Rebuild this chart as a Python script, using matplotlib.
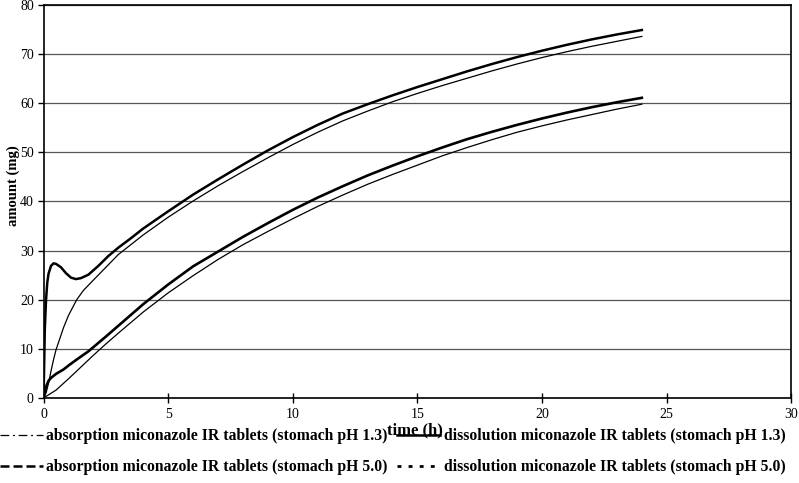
import matplotlib.pyplot as plt
from matplotlib.lines import Line2D

plt.rcParams['font.family'] = ['Liberation Serif', 'DejaVu Serif']

# dissolution, stomach pH 1.3 (upper thick curve)
t_diss13 = [0, 0.05, 0.1, 0.15, 0.2, 0.3, 0.4, 0.5, 0.7, 0.9, 1.1, 1.3, 1.5, 1.8,
            2.2, 2.6, 3, 3.5, 4, 5, 6, 7, 8, 9, 10, 11, 12, 13, 14, 15, 16, 17,
            18, 19, 20, 21, 22, 23, 24]
diss13 = [0, 14, 20, 23.5, 25.3, 26.9, 27.4, 27.3, 26.6, 25.4, 24.5, 24.2, 24.4, 25.1,
          26.9, 28.9, 30.6, 32.5, 34.5, 38.0, 41.4, 44.5, 47.5, 50.4, 53.1, 55.6, 57.9,
          59.8, 61.6, 63.3, 64.9, 66.5, 68.0, 69.4, 70.7, 71.9, 73.0, 74.0, 74.9]

# absorption, stomach pH 1.3 (upper thin curve)
t_abs13 = [0, 0.1, 0.2, 0.3, 0.4, 0.5, 0.66, 0.8, 1.0, 1.33, 1.6, 2.0, 2.5, 3, 3.5, 4,
           5, 6, 7, 8, 9, 10, 11, 12, 13, 14, 15, 16, 17, 18, 19, 20, 21, 22, 23, 24]
abs13 = [0, 1.0, 3.0, 5.5, 7.8, 9.8, 12.2, 14.3, 16.8, 20.0, 21.9, 24.0, 26.6, 29.2,
         31.2, 33.2, 36.8, 40.1, 43.2, 46.1, 48.9, 51.6, 54.1, 56.4, 58.4, 60.3, 62.0,
         63.6, 65.1, 66.6, 68.0, 69.3, 70.5, 71.6, 72.6, 73.6]

# dissolution, stomach pH 5.0 (lower thick curve)
t_diss50 = [0, 0.05, 0.1, 0.2, 0.3, 0.5, 0.8, 1.0, 1.35, 1.8, 2.5, 3, 4, 5, 6, 7, 8, 9,
            10, 11, 12, 13, 14, 15, 16, 17, 18, 19, 20, 21, 22, 23, 24]
diss50 = [0, 1.2, 2.3, 3.5, 4.1, 4.9, 5.8, 6.6, 7.9, 9.5, 12.5, 14.7, 19.1, 23.1,
          26.8, 29.8, 32.8, 35.6, 38.3, 40.8, 43.1, 45.3, 47.3, 49.2, 51.0, 52.7, 54.2,
          55.6, 56.9, 58.1, 59.2, 60.2, 61.1]

# absorption, stomach pH 5.0 (lower thin curve)
t_abs50 = [0, 0.5, 1, 1.5, 2, 2.5, 3, 4, 5, 6, 7, 8, 9, 10, 11, 12, 13, 14, 15, 16,
           17, 18, 19, 20, 21, 22, 23, 24]
abs50 = [0, 1.6, 3.9, 6.3, 8.7, 11.0, 13.2, 17.5, 21.4, 24.9, 28.2, 31.2, 33.9, 36.5,
         39.0, 41.3, 43.5, 45.5, 47.4, 49.3, 51.0, 52.6, 54.1, 55.4, 56.6, 57.7, 58.8,
         59.8]

labels = ['absorption miconazole IR tablets (stomach pH 1.3)',
          'absorption miconazole IR tablets (stomach pH 5.0)',
          'dissolution miconazole IR tablets (stomach pH 1.3)',
          'dissolution miconazole IR tablets (stomach pH 5.0)']

fig = plt.figure(figsize=(7.99, 4.83), dpi=100)
ax = fig.add_axes([0.0545, 0.176, 0.936, 0.8137])

ax.set_xlim(0, 30)
ax.set_ylim(0, 80)
ax.set_xticks(range(0, 31, 5))
ax.set_yticks(range(0, 81, 10))
ax.yaxis.grid(True, color='#555555', linewidth=0.9)
ax.set_axisbelow(True)
for s in ax.spines.values():
    s.set_linewidth(1.2)
    s.set_color('black')

ax.plot(t_abs50, abs50, color='black', linewidth=0.9)
ax.plot(t_diss50, diss50, color='black', linewidth=1.9)
ax.plot(t_abs13, abs13, color='black', linewidth=0.9)
ax.plot(t_diss13, diss13, color='black', linewidth=1.8)

ax.tick_params(axis='x', direction='inout', length=7, width=1, labelsize=10, pad=4)
ax.tick_params(axis='y', direction='out', length=4, width=1, labelsize=10, pad=3)

ax.set_xlabel('time (h)', fontsize=12, fontweight='bold')
ax.xaxis.set_label_coords(0.497, -0.062)
ax.set_ylabel('amount (mg)', fontsize=10.5, fontweight='bold')
ax.yaxis.set_label_coords(-0.032, 0.54)

handles = [Line2D([], [], color='black', linewidth=0.9, dashes=(7, 3, 1.5, 3)),
           Line2D([], [], color='black', linewidth=1.8, dashes=(3.6, 1.6)),
           Line2D([], [], color='black', linewidth=1.8),
           Line2D([], [], color='black', linewidth=2.0, dashes=(1.4, 2.6))]
fig.legend(handles, labels, loc='upper left', bbox_to_anchor=(0.0, 0.113),
           ncol=2, frameon=False, borderpad=0, borderaxespad=0,
           handlelength=2.75, handletextpad=0.2, columnspacing=0.6,
           labelspacing=0.95, prop={'weight': 'bold', 'size': 11.3})

fig.savefig('out.png', dpi=100)
